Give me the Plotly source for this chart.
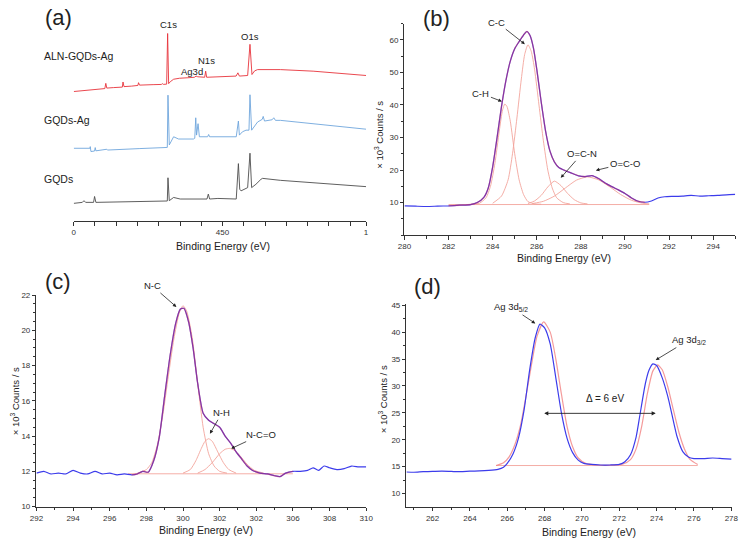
import plotly.graph_objects as go

W, H = 753, 545
FONT = "Liberation Sans, Arial, sans-serif"

# ---------------- (a) survey spectra (arbitrary units, eV, intensity) ----------------
survey_aln = [(0, 132), (50, 133.5), (94, 135), (97, 140.3), (100, 135.5), (120, 136), (147, 136.5),
              (149, 141.7), (152, 137), (175, 137.5), (194, 138.2), (196, 141), (199, 138.5),
              (240, 139), (265, 139.2), (268, 140), (271, 139.3), (281, 139.5), (284, 191),
              (287, 140), (292, 142), (302, 144.5), (320, 145.5), (345, 146), (365, 146.5),
              (370, 147.7), (375, 147), (396, 146.5), (399, 152.7), (402, 146.5), (427, 146.7),
              (460, 147.2), (491, 147.7), (496.5, 151), (501, 147.7), (526, 148.3), (533, 180),
              (539, 149.3), (547, 153), (556, 154.3), (625, 154.3), (724, 152.7), (800, 150.5),
              (884, 148.3)]
survey_gqds_ag = [(0, 74.3), (45, 74.3), (49, 74.3), (50, 76), (52, 71), (63, 71.5), (65, 75),
                  (67, 71.7), (98, 72.5), (100, 73.3), (102, 72.5), (125, 72.7), (200, 74),
                  (273, 75), (283, 75.2), (285, 128.3), (289, 77.7), (302, 86), (317, 83.7),
                  (362, 83.7), (366, 84.5), (369, 105.3), (371.5, 87.7), (376, 99.3), (380, 86),
                  (405, 86), (408, 88.3), (411, 86), (436, 86), (491.5, 86), (498, 102),
                  (501, 87.7), (510, 91), (521, 92.7), (530, 92.7), (533, 128.7), (538, 92.7),
                  (556, 101), (570, 103.7), (573, 106.7), (577, 102), (600, 103.3), (605, 105.3),
                  (610, 102.7), (625, 102.7), (724, 99.3), (823, 96), (884, 93.7)]
survey_gqds = [(0, 18.3), (26, 19.3), (31, 21), (36, 19.3), (60, 19.3), (63, 25.3), (67, 19.3),
               (178, 20), (278, 20.7), (283, 20.7), (285, 44.3), (289, 21), (302, 24.3),
               (322, 22.7), (403, 22.7), (407, 27.7), (411, 22.7), (436, 23.3), (491.5, 22.7),
               (498, 58.7), (502, 32.7), (506, 31), (526, 34.3), (533, 69.3), (538, 34.3),
               (551, 37.7), (566, 42.7), (571, 43.7), (625, 41.7), (724, 39.3), (823, 37), (884, 35.3)]

# ---------------- (b) C1s ----------------
b_total = [(280, 9.0), (280.5, 8.9), (281, 8.8), (281.5, 8.9), (282, 9.0), (282.5, 9.2), (283, 9.4),
           (283.3, 10.0), (283.6, 11.6), (283.8, 14.5), (284.0, 21), (284.2, 30), (284.4, 39.5),
           (284.6, 47.5), (284.8, 53.5), (285.0, 57.3), (285.2, 59.5), (285.4, 61.5), (285.55, 62.6),
           (285.7, 61.3), (285.85, 57.5), (286.0, 51), (286.2, 41), (286.4, 32), (286.6, 25.8),
           (286.8, 22.5), (287.0, 20.8), (287.3, 19.8), (287.6, 19.0), (287.9, 18.2), (288.2, 18.0),
           (288.5, 18.3), (288.8, 17.4), (289.1, 16.0), (289.4, 14.9), (289.7, 13.9), (290.0, 12.8),
           (290.3, 11.4), (290.6, 10.4), (290.9, 10.1), (291.2, 10.5), (291.5, 11.4), (291.8, 11.8),
           (292.2, 11.9), (292.6, 12.0), (293.0, 12.2), (293.4, 12.0), (293.8, 12.1), (294.2, 12.2),
           (294.6, 12.4), (295, 12.5)]
b_ch = [(283.0, 9.5), (283.4, 9.8), (283.7, 11.5), (283.9, 15), (284.1, 22), (284.3, 32), (284.45, 38.5),
        (284.55, 40.3), (284.65, 39.5), (284.8, 35), (285.0, 25), (285.2, 17), (285.4, 12.5),
        (285.6, 10.3), (285.9, 9.6), (286.2, 9.5)]
b_cc = [(284.0, 9.8), (284.4, 12), (284.7, 17), (284.9, 25), (285.1, 36), (285.3, 48), (285.45, 55.5),
        (285.6, 58.5), (285.75, 56.5), (285.9, 51), (286.1, 40), (286.3, 29), (286.5, 20), (286.7, 14.5),
        (286.9, 11.5), (287.2, 10), (287.5, 9.6)]
b_ocn = [(285.6, 9.7), (285.9, 10.5), (286.2, 12.2), (286.5, 14.8), (286.8, 16.6), (287.1, 15.2),
         (287.4, 12.8), (287.7, 10.9), (288.0, 9.9), (288.3, 9.6)]
b_oco = [(285.8, 9.7), (286.3, 10.4), (286.8, 12.0), (287.3, 14.5), (287.8, 16.9), (288.3, 17.9),
         (288.8, 17.0), (289.3, 14.9), (289.8, 12.5), (290.3, 10.7), (290.8, 9.8), (291.1, 9.6)]
b_base = [(282.0, 9.4), (291.1, 9.4)]
b_fit_range = (282.0, 291.1)

# ---------------- (c) N1s ----------------
c_total = [(292, 11.9), (292.4, 12.0), (292.8, 11.85), (293.2, 11.9), (293.6, 11.85), (294.0, 12.05),
           (294.4, 11.9), (294.8, 11.85), (295.2, 12.0), (295.6, 11.85), (296.0, 11.9), (296.4, 11.8),
           (296.8, 11.85), (297.2, 11.8), (297.5, 11.85), (297.8, 12.0), (298.1, 11.95), (298.4, 12.6),
           (298.7, 13.9), (299.0, 16.3), (299.3, 18.6), (299.6, 20.4), (299.85, 21.2), (300.05, 21.25),
           (300.3, 20.5), (300.55, 19.0), (300.8, 17.0), (301.1, 15.3), (301.4, 14.9), (301.7, 14.7),
           (302.0, 14.5), (302.3, 14.0), (302.6, 13.6), (302.9, 13.1), (303.2, 12.7), (303.5, 12.3),
           (303.8, 12.05), (304.2, 11.9), (304.6, 11.85), (305.0, 11.75), (305.3, 11.7), (305.6, 11.9),
           (306.0, 12.0), (306.4, 12.0), (306.8, 12.05), (307.1, 12.2), (307.4, 12.05), (307.7, 12.3),
           (308.0, 12.2), (308.4, 12.1), (308.8, 12.15), (309.2, 12.3), (309.6, 12.25), (310, 12.25)]
c_nc = [(297.5, 11.9), (298.0, 12.1), (298.3, 12.5), (298.6, 13.5), (298.9, 15.2), (299.2, 17.4),
        (299.5, 19.5), (299.8, 21.0), (300.0, 21.4), (300.2, 21.1), (300.5, 19.6), (300.8, 17.0),
        (301.1, 14.5), (301.4, 13.0), (301.7, 12.3), (302.0, 12.0), (302.4, 11.9)]
c_nh = [(300.0, 11.9), (300.4, 12.1), (300.7, 12.6), (301.0, 13.3), (301.2, 13.7), (301.4, 13.85),
        (301.6, 13.7), (301.9, 13.1), (302.2, 12.5), (302.5, 12.1), (302.9, 11.9)]
c_nco = [(300.8, 11.9), (301.2, 12.1), (301.6, 12.5), (302.0, 13.0), (302.3, 13.25), (302.55, 13.3),
         (302.8, 13.2), (303.1, 12.9), (303.5, 12.4), (303.9, 12.05), (304.4, 11.9)]
c_base = [(297.0, 11.86), (306.0, 11.86)]
c_fit_range = (297.0, 306.0)
c_ticks = [292, 294, 296, 298, 300, 302, 304, 306, 308, 310]
c_ticktext = ["292", "294", "296", "298", "300", "302", "302", "306", "308", "310"]

# ---------------- (d) Ag3d ----------------
d_total = [(260.6, 14.0), (261.0, 13.95), (261.5, 14.05), (262.0, 14.1), (262.5, 14.15), (263.0, 14.1),
           (263.5, 14.05), (264.0, 14.15), (264.5, 14.2), (265.0, 14.3), (265.5, 14.5), (265.8, 14.9),
           (266.0, 15.6), (266.3, 17.3), (266.6, 20.3), (266.9, 25.5), (267.2, 33.0), (267.5, 39.0),
           (267.75, 41.5), (268.0, 40.8), (268.3, 37.8), (268.6, 31.5), (268.9, 25.0), (269.2, 20.3),
           (269.5, 17.6), (269.8, 16.2), (270.1, 15.6), (270.5, 15.4), (271.0, 15.3), (271.5, 15.3),
           (272.0, 15.4), (272.3, 15.9), (272.6, 17.2), (272.9, 20.5), (273.1, 24.5), (273.4, 30.5),
           (273.6, 33.0), (273.8, 34.1), (274.0, 33.8), (274.3, 31.5), (274.6, 28.0), (274.8, 25.0),
           (275.1, 20.5), (275.4, 17.8), (275.7, 16.8), (276.0, 16.5), (276.5, 16.5), (277.0, 16.6),
           (277.5, 16.5), (278.0, 16.4)]
d_fit = [(265.4, 15.2), (265.8, 15.7), (266.1, 16.8), (266.4, 19.0), (266.7, 22.5), (267.0, 28.0),
         (267.3, 34.0), (267.6, 39.3), (267.95, 41.9), (268.3, 40.0), (268.6, 35.0), (268.9, 28.5),
         (269.2, 22.5), (269.5, 18.7), (269.8, 16.6), (270.2, 15.6), (270.8, 15.3), (271.5, 15.25),
         (272.2, 15.5), (272.6, 16.3), (272.9, 18.3), (273.2, 22.5), (273.5, 28.5), (273.8, 32.8),
         (274.05, 33.9), (274.3, 33.0), (274.6, 29.8), (274.9, 25.5), (275.2, 21.3), (275.5, 18.2),
         (275.8, 16.3), (276.2, 15.4)]
d_base = [(265.4, 15.2), (276.2, 15.2)]
d_split = (267.9, 273.95, 24.9)   # Ag 3d5/2 and 3d3/2 positions, arrow level

BLUE = "rgb(60,60,235)"
PINK = "rgba(242,160,150,0.85)"
REDFIT = "rgba(225,40,70,0.45)"
AX = "#333"


def xs(p):
    return [a for a, _ in p]


def ys(p):
    return [b for _, b in p]


fig = go.Figure()


def add(pts, xa, ya, color, width=1.0, spline=False):
    line = dict(color=color, width=width)
    if spline:
        line.update(shape="spline", smoothing=0.6)
    fig.add_trace(go.Scatter(x=xs(pts), y=ys(pts), mode="lines", line=line, xaxis=xa, yaxis=ya,
                             showlegend=False, hoverinfo="skip"))


# (a)
add(survey_gqds, "x", "y", "#4d4d4d", 0.9)
add(survey_gqds_ag, "x", "y", "#6fa6dc", 0.9)
add(survey_aln, "x", "y", "#e8333b", 0.9)

# (b)
add(b_base, "x2", "y2", PINK, 1)
for comp in (b_ch, b_cc, b_ocn, b_oco):
    add(comp, "x2", "y2", PINK, 1, spline=True)
add(b_total, "x2", "y2", BLUE, 1.2, spline=True)
add([p for p in b_total if b_fit_range[0] <= p[0] <= b_fit_range[1]], "x2", "y2", REDFIT, 1.4, spline=True)

# (c)
add(c_base, "x3", "y3", PINK, 1)
for comp in (c_nc, c_nh, c_nco):
    add(comp, "x3", "y3", PINK, 1, spline=True)
add(c_total, "x3", "y3", BLUE, 1.2, spline=True)
add([p for p in c_total if c_fit_range[0] <= p[0] <= c_fit_range[1]], "x3", "y3", REDFIT, 1.4, spline=True)

# (d)
add(d_base, "x4", "y4", PINK, 1)
add(d_fit, "x4", "y4", "rgba(240,120,120,0.75)", 1.2, spline=True)
add(d_total, "x4", "y4", BLUE, 1.2, spline=True)


def pxx(px):
    return px / W


def pxy(py):
    return 1 - py / H


tickfont = dict(size=8, color="#333", family=FONT)
common = dict(showline=True, linecolor=AX, linewidth=1, ticks="outside", ticklen=3.5, tickwidth=1,
              tickcolor=AX, showgrid=False, zeroline=False, tickfont=tickfont, autorange=False,
              fixedrange=True)


def minor(dt, t0=0, side="outside"):
    return dict(ticks=side, ticklen=2.5, tickcolor=AX, tickwidth=1, dtick=dt, tick0=t0, showgrid=False)


a_ticks = [i * 450 / 7 for i in range(14)] + [884]
a_text = ["0"] + [""] * 6 + ["450"] + [""] * 6 + ["1"]

# main axis definitions (ticks outside); the mirror axes add the inner half of the crossing ticks
ax_x = {
    "xaxis": dict(domain=[pxx(68), pxx(366)], range=[0, 884.5], anchor="y",
                  tickmode="array", tickvals=a_ticks, ticktext=a_text),
    "xaxis2": dict(domain=[pxx(405), pxx(742)], range=[280, 295], anchor="y2",
                   tickmode="linear", tick0=280, dtick=2, minor=minor(1)),
    "xaxis3": dict(domain=[pxx(30), pxx(366)], range=[292, 310], anchor="y3",
                   tickmode="array", tickvals=c_ticks, ticktext=c_ticktext, minor=minor(1)),
    "xaxis4": dict(domain=[pxx(407), pxx(739)], range=[260.6, 278.05], anchor="y4",
                   tickmode="array", tickvals=list(range(262, 279, 2)), minor=minor(1)),
}
ax_y = {
    "yaxis2": dict(domain=[pxy(235), pxy(20)], range=[0, 65], anchor="x2",
                   tickmode="array", tickvals=[10, 20, 30, 40, 50, 60], minor=minor(5)),
    "yaxis3": dict(domain=[pxy(511), pxy(296)], range=[10, 22], anchor="x3",
                   tickmode="linear", tick0=10, dtick=2, minor=minor(0.5, 10)),
    "yaxis4": dict(domain=[pxy(511), pxy(305)], range=[7.57, 45.24], anchor="x4",
                   tickmode="array", tickvals=[10, 15, 20, 25, 30, 35, 40, 45], minor=minor(2.5)),
}

layout_axes = {}
for name, spec in {**ax_x, **ax_y}.items():
    layout_axes[name] = dict(common, **spec)

# inner-tick overlay axes
overlay_pairs = [("xaxis5", "x", "y", "xaxis"), ("xaxis6", "x2", "y2", "xaxis2"),
                 ("xaxis7", "x3", "y3", "xaxis3"), ("xaxis8", "x4", "y4", "xaxis4"),
                 ("yaxis6", "y2", "x2", "yaxis2"), ("yaxis7", "y3", "x3", "yaxis3"),
                 ("yaxis8", "y4", "x4", "yaxis4")]
for new, over, anch, src in overlay_pairs:
    spec = dict(layout_axes[src])
    spec.pop("domain", None)
    spec.update(overlaying=over, anchor=anch, ticks="inside", showticklabels=False, showline=False)
    if "minor" in spec:
        spec["minor"] = dict(spec["minor"], ticks="inside")
    layout_axes[new] = spec
layout_axes["xaxis5"]["side"] = "bottom"
layout_axes["xaxis6"]["side"] = "bottom"
layout_axes["xaxis7"]["side"] = "bottom"
layout_axes["xaxis8"]["side"] = "bottom"
for k in ("yaxis6", "yaxis7", "yaxis8"):
    layout_axes[k]["side"] = "left"

fig.update_layout(
    width=W, height=H, margin=dict(l=0, r=0, t=0, b=0), autosize=False,
    paper_bgcolor="white", plot_bgcolor="rgba(0,0,0,0)", font=dict(family=FONT, color="#222"),
    yaxis=dict(domain=[pxy(221), pxy(20)], range=[0, 201], visible=False, fixedrange=True),
    yaxis5=dict(overlaying="y", range=[0, 201], visible=False, fixedrange=True),
    **layout_axes,
)

ann = []


def ptext(text, px, py, size=9.5, xanchor="center", angle=0, color="#222"):
    ann.append(dict(text=text, x=pxx(px), y=pxy(py), xref="paper", yref="paper", showarrow=False,
                    xanchor=xanchor, yanchor="middle", textangle=angle,
                    font=dict(size=size, family=FONT, color=color)))


def arrow(text, xa, ya, x, y, ax, ay, size=9.5):
    ann.append(dict(text=text, x=x, y=y, xref=xa, yref=ya, ax=ax, ay=ay, showarrow=True,
                    arrowhead=2, arrowsize=0.9, arrowwidth=0.8, arrowcolor="#222", standoff=0,
                    font=dict(size=size, family=FONT, color="#222")))


# panel letters
ptext("(a)", 52, 14, size=22)
ptext("(b)", 438, 15, size=22)
ptext("(c)", 52, 282, size=22)
ptext("(d)", 428, 287, size=22)

# (a) labels
ptext("ALN-GQDs-Ag", 36, 53, size=10.5, xanchor="left")
ptext("GQDs-Ag", 36, 118, size=10.5, xanchor="left")
ptext("GQDs", 36, 178, size=10.5, xanchor="left")
ptext("C1s", 165, 21, size=9.5)
ptext("Ag3d", 189, 69, size=9.5)
ptext("N1s", 203, 57, size=9.5)
ptext("O1s", 248, 33, size=9.5)

# axis titles
ytitle = "× 10<sup>3</sup> Counts / s"
ptext("Binding Energy (eV)", 220, 246, size=10.5)
ptext("Binding Energy (eV)", 568, 258, size=10.5)
ptext("Binding Energy (eV)", 203, 535, size=10.5)
ptext("Binding Energy (eV)", 593, 537, size=10.5)
ptext(ytitle, 379, 133, size=9.5, angle=-90)
ptext(ytitle, 8, 404, size=9.5, angle=-90)
ptext(ytitle, 383, 402, size=9.5, angle=-90)

# (b) arrows
arrow("C-C", "x2", "y2", 285.46, 58.7, -28, -22)
arrow("C-H", "x2", "y2", 284.42, 41.1, -21, -8)
arrow("O=C-N", "x2", "y2", 287.09, 17.6, 21, -24)
arrow("O=C-O", "x2", "y2", 288.68, 19.9, 29, -7)

# (c) arrows
arrow("N-C", "x3", "y3", 299.64, 21.33, -24, -21)
arrow("N-H", "x3", "y3", 301.47, 14.13, 12, -21)
arrow("N-C=O", "x3", "y3", 302.63, 13.29, 30, -14)

# (d) arrows
arrow("Ag 3d<sub>5/2</sub>", "x4", "y4", 267.5, 41.63, -24, -16)
arrow("Ag 3d<sub>3/2</sub>", "x4", "y4", 273.95, 34.81, 33, -20)
ann.append(dict(text="", x=d_split[1], y=d_split[2], ax=d_split[0], ay=d_split[2], xref="x4", yref="y4",
                axref="x4", ayref="y4", showarrow=True, arrowhead=2, arrowside="end+start",
                arrowsize=0.9, arrowwidth=0.9, arrowcolor="#222", standoff=0, startstandoff=0))
ann.append(dict(text="Δ = 6 eV", x=271.23, y=27.63, xref="x4", yref="y4", showarrow=False,
                font=dict(size=10, family=FONT, color="#222")))

fig.update_layout(annotations=ann)
fig.write_html("out.html", config={"displayModeBar": False, "staticPlot": True},
               post_script="document.body.style.margin='0';document.body.style.overflow='hidden';")
